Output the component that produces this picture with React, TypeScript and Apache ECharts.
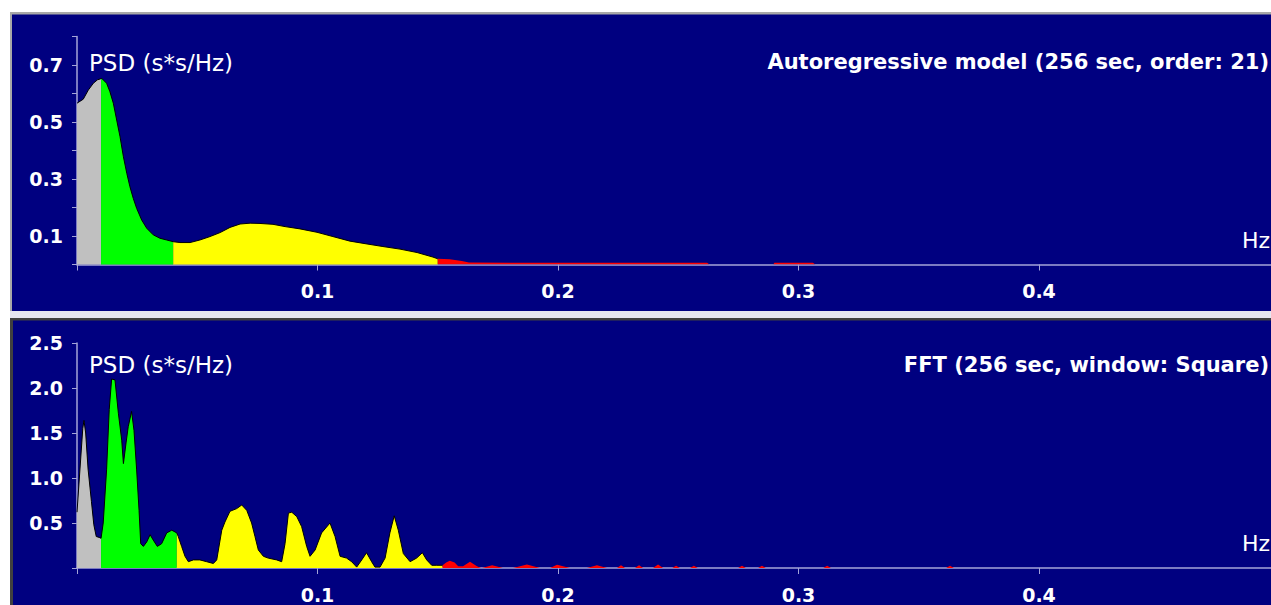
import React, { useEffect, useRef } from "react";
import * as echarts from "echarts";

// ---------- data: Autoregressive model (top panel) ----------
const arUlf: number[][] = [
  [0, 0.566], [0.0026, 0.58], [0.0047, 0.612], [0.0068, 0.636], [0.0085, 0.648], [0.01, 0.652],
];
const arVlf: number[][] = [
  [0.01, 0.652], [0.0103, 0.653], [0.0123, 0.636], [0.0137, 0.606], [0.0151, 0.566], [0.0165, 0.507],
  [0.0179, 0.448], [0.0193, 0.378], [0.0207, 0.32], [0.022, 0.273], [0.0234, 0.232], [0.0248, 0.197],
  [0.0269, 0.156], [0.029, 0.127], [0.0317, 0.104], [0.0345, 0.092], [0.0373, 0.086], [0.04, 0.08],
];
const arLf: number[][] = [
  [0.04, 0.08], [0.0428, 0.077], [0.047, 0.077], [0.0511, 0.086], [0.0553, 0.098], [0.0595, 0.112],
  [0.0636, 0.13], [0.0678, 0.142], [0.072, 0.145], [0.0761, 0.144], [0.0815, 0.141], [0.0865, 0.133],
  [0.0927, 0.125], [0.0998, 0.113], [0.1064, 0.098], [0.1135, 0.082], [0.1206, 0.072], [0.1272, 0.063],
  [0.1343, 0.054], [0.1414, 0.042], [0.148, 0.026], [0.15, 0.02],
];
const arHf: number[][] = [
  [0.15, 0.02], [0.155, 0.018], [0.16, 0.012], [0.163, 0.007], [0.2, 0.006], [0.262, 0.006], [0.263, 0],
  [0.2895, 0], [0.29, 0.006], [0.306, 0.006], [0.307, 0], [0.5, 0],
];

// ---------- data: FFT (bottom panel) ----------
const fftUlf: number[][] = [
  [0, 0.62], [0.0015, 1.2], [0.0024, 1.55], [0.0029, 1.64], [0.0036, 1.5], [0.0046, 1.1],
  [0.006, 0.74], [0.007, 0.48], [0.008, 0.35], [0.0092, 0.34], [0.01, 0.33],
];
const fftVlf: number[][] = [
  [0.01, 0.33], [0.0109, 0.5], [0.0123, 1.09], [0.0134, 1.76], [0.0144, 2.1], [0.0158, 2.09],
  [0.0172, 1.72], [0.0186, 1.42], [0.0193, 1.16], [0.0204, 1.39], [0.0213, 1.57], [0.0227, 1.74],
  [0.0237, 1.53], [0.0248, 1.09], [0.0258, 0.64], [0.0265, 0.27], [0.0276, 0.24], [0.029, 0.29],
  [0.0304, 0.37], [0.0317, 0.31], [0.0334, 0.24], [0.0352, 0.27], [0.0373, 0.39], [0.0394, 0.42],
  [0.0415, 0.39],
];
const fftLf: number[][] = [
  [0.0415, 0.39], [0.0421, 0.35], [0.0435, 0.24], [0.0449, 0.13], [0.0463, 0.07], [0.0484, 0.09],
  [0.0511, 0.09], [0.0539, 0.07], [0.0567, 0.05], [0.0581, 0.09], [0.0602, 0.42], [0.0615, 0.51],
  [0.0636, 0.63], [0.0664, 0.66], [0.0685, 0.7], [0.0706, 0.64], [0.0726, 0.5], [0.074, 0.35],
  [0.0754, 0.2], [0.0775, 0.13], [0.0795, 0.11], [0.083, 0.09], [0.0851, 0.07], [0.0865, 0.27],
  [0.0879, 0.61], [0.0893, 0.62], [0.0914, 0.57], [0.0934, 0.46], [0.0955, 0.24], [0.0969, 0.13],
  [0.099, 0.2], [0.1017, 0.39], [0.1052, 0.5], [0.1073, 0.35], [0.1094, 0.13], [0.1121, 0.11],
  [0.1142, 0.07], [0.1163, 0.01], [0.1184, 0.09], [0.1204, 0.17], [0.1225, 0.07], [0.1239, 0.01],
  [0.126, 0.01], [0.1281, 0.11], [0.1301, 0.39], [0.1319, 0.58], [0.1336, 0.42], [0.1357, 0.16],
  [0.1385, 0.07], [0.1412, 0.11], [0.1436, 0.17], [0.1454, 0.09], [0.1475, 0.03], [0.1496, 0.03],
  [0.152, 0.03],
];
const fftHf: number[][] = [
  [0.152, 0.03], [0.1535, 0.06], [0.155, 0.08], [0.157, 0.06], [0.1585, 0.02], [0.1605, 0.02],
  [0.1634, 0.07], [0.1663, 0.02], [0.168, 0], [0.1684, 0], [0.1726, 0.03], [0.1771, 0],
  [0.1813, 0], [0.1871, 0.04], [0.1925, 0], [0.1967, 0], [0.1996, 0.035], [0.205, 0],
  [0.212, 0], [0.2162, 0.03], [0.2204, 0], [0.2245, 0], [0.2262, 0.03], [0.2279, 0],
  [0.232, 0], [0.2337, 0.03], [0.2354, 0], [0.2395, 0], [0.2416, 0.04], [0.2437, 0],
  [0.2475, 0], [0.2491, 0.025], [0.2507, 0], [0.2549, 0], [0.2565, 0.025], [0.2581, 0],
  [0.2749, 0], [0.2765, 0.025], [0.2781, 0], [0.2832, 0], [0.2848, 0.025], [0.2864, 0],
  [0.3103, 0], [0.3119, 0.025], [0.3135, 0], [0.3614, 0], [0.363, 0.025], [0.3646, 0], [0.5, 0],
];

const bandColors = ["#c0c0c0", "#00ff00", "#ffff00", "#ff0000"];
const titles = ["Autoregressive model (256 sec, order: 21)", "FFT (256 sec, window: Square)"];
const yLabel = "PSD (s*s/Hz)";
const xUnit = "Hz";

const NAVY = "#000080";
const AXIS = "#a4a4d8";
const FONT = "DejaVu Sans";

export default function App() {
  const ref = useRef<HTMLDivElement>(null);
  useEffect(() => {
    if (!ref.current) return;
    const chart = echarts.init(ref.current, undefined, { renderer: "svg" });

    const bandSeries = (bands: number[][][], idx: number) =>
      bands.map((data, i) => ({
        type: "line",
        xAxisIndex: idx,
        yAxisIndex: idx,
        data,
        symbol: "none",
        showSymbol: false,
        silent: true,
        z: 3,
        lineStyle: i === 3 ? { width: 0, color: bandColors[3] } : { width: 1, color: "#000000" },
        areaStyle: { color: bandColors[i], opacity: 1 },
      }));

    const xAxisBase = (gridIndex: number) => ({
      type: "value",
      gridIndex,
      min: 0,
      max: 0.5,
      interval: 0.1,
      axisLine: { show: true, lineStyle: { color: AXIS, width: 1.5 } },
      axisTick: { show: true, length: 6, lineStyle: { color: AXIS } },
      splitLine: { show: false },
      axisLabel: {
        color: "#ffffff",
        fontFamily: FONT,
        fontWeight: "bold",
        fontSize: 19,
        margin: 17,
        formatter: (v: number) => (v <= 0 || v >= 0.5 ? "" : v.toFixed(1)),
      },
    });

    const text = (x: number, y: number, s: string, size: number, bold: boolean, align: string) => ({
      type: "text",
      x,
      y,
      z: 100,
      silent: true,
      style: {
        text: s,
        fill: "#ffffff",
        font: `${bold ? "bold " : ""}${size}px ${FONT}`,
        textAlign: align,
        textVerticalAlign: "middle",
        verticalAlign: "middle",
      },
    });

    chart.setOption({
      animation: false,
      backgroundColor: "#ffffff",
      grid: [
        { left: 77, right: 20.5, top: 36.5, height: 228 },
        { left: 77, right: 20.5, top: 343, height: 225 },
      ],
      xAxis: [xAxisBase(0), xAxisBase(1)],
      yAxis: [
        {
          type: "value",
          gridIndex: 0,
          min: 0,
          max: 0.8,
          interval: 0.1,
          axisLine: { show: true, lineStyle: { color: AXIS, width: 1.5 } },
          axisTick: { show: true, length: 5, lineStyle: { color: AXIS } },
          splitLine: { show: false },
          axisLabel: {
            color: "#ffffff",
            fontFamily: FONT,
            fontWeight: "bold",
            fontSize: 19,
            margin: 14,
            formatter: (v: number) => {
              const k = Math.round(v * 10);
              return k % 2 === 1 ? v.toFixed(1) : "";
            },
          },
        },
        {
          type: "value",
          gridIndex: 1,
          min: 0,
          max: 2.5,
          interval: 0.5,
          axisLine: { show: true, lineStyle: { color: AXIS, width: 1.5 } },
          axisTick: { show: true, length: 5, lineStyle: { color: AXIS } },
          splitLine: { show: false },
          axisLabel: {
            color: "#ffffff",
            fontFamily: FONT,
            fontWeight: "bold",
            fontSize: 19,
            margin: 14,
            formatter: (v: number) => (v <= 0 ? "" : v.toFixed(1)),
          },
        },
      ],
      graphic: [
        { type: "rect", z: -100, silent: true, shape: { x: 10, y: 12, width: 1300, height: 300 }, style: { fill: "#a8a8a8" } },
        { type: "rect", z: -99, silent: true, shape: { x: 12, y: 14.5, width: 1300, height: 296.5 }, style: { fill: NAVY } },
        { type: "rect", z: -98, silent: true, shape: { x: 10, y: 311, width: 1300, height: 7 }, style: { fill: "#e6e6f0" } },
        { type: "rect", z: -97, silent: true, shape: { x: 10, y: 318, width: 1300, height: 300 }, style: { fill: "#404040" } },
        { type: "rect", z: -96, silent: true, shape: { x: 13, y: 320.5, width: 1300, height: 300 }, style: { fill: NAVY } },
        text(89, 63, yLabel, 23, false, "left"),
        text(1269, 62, titles[0], 21, true, "right"),
        text(1270, 240, xUnit, 22, false, "right"),
        text(89, 365, yLabel, 23, false, "left"),
        text(1269, 365, titles[1], 21, true, "right"),
        text(1270, 543, xUnit, 22, false, "right"),
      ],
      series: [
        ...bandSeries([arUlf, arVlf, arLf, arHf], 0),
        ...bandSeries([fftUlf, fftVlf, fftLf, fftHf], 1),
      ],
    });
    return () => chart.dispose();
  }, []);

  return (
    <div style={{ position: "fixed", left: 0, top: 0, width: 1271, height: 605, overflow: "hidden", background: "#ffffff" }}>
      <div ref={ref} style={{ width: 1300, height: 605 }} />
    </div>
  );
}
